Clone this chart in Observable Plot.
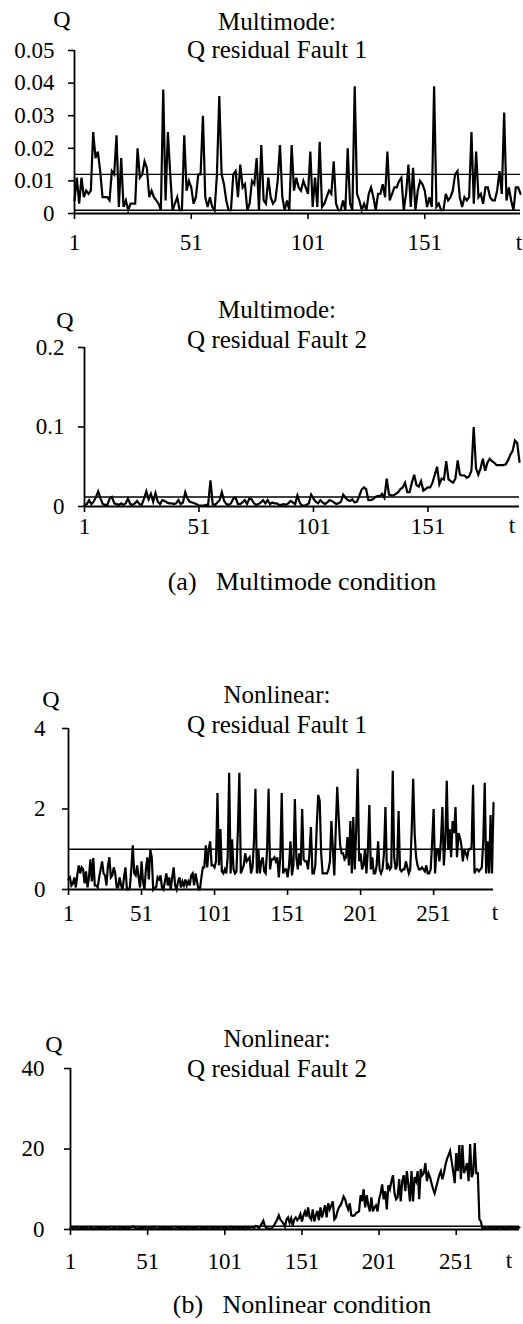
<!DOCTYPE html>
<html><head><meta charset="utf-8">
<script src="https://cdn.jsdelivr.net/npm/d3@7"></script>
<script src="https://cdn.jsdelivr.net/npm/@observablehq/plot@0.6"></script>
<style>
html,body{margin:0;padding:0;background:#fff;}
#root{position:relative;width:523px;height:1324px;overflow:hidden;}
#root svg{position:absolute;left:0;}
</style></head><body><div id="root"></div>
<script>
// ---------- data ----------
const multimodeTicksX = [1, 51, 101, 151];
const nonlinearTicksX = [1, 51, 101, 151, 201, 251];
const ticksY1 = [0, 0.01, 0.02, 0.03, 0.04, 0.05];
const ticksY2 = [0, 0.1, 0.2];
const ticksY3 = [0, 2, 4];
const ticksY4 = [0, 20, 40];
const limits1 = [0.012, 0.001];
const limits2 = [0.012];
const limits3 = [1.0];
const limits4 = [0.8];

const q1 = [
.004,.011,.003,.011,.005,.007,.006,.007,.025,.017,
.019,.013,.005,.005,.005,.004,.013,.012,.024,.002,
.017,.002,.004,.001,.003,.003,.003,.020,.011,.012,
.016,.014,.005,.007,.005,.004,.003,.001,.038,.004,
.025,.012,.001,.003,.005,.001,.001,.024,.007,.010,
.008,.003,.005,.012,.012,.030,.005,.002,.005,.002,
.001,.012,.036,.012,.009,.004,.001,.001,.012,.013,
.005,.015,.008,.009,.001,.003,.010,.009,.017,.001,
.021,.004,.003,.011,.005,.003,.004,.010,.021,.005,
.001,.004,.001,.021,.007,.011,.008,.007,.010,.008,
.006,.019,.002,.011,.002,.022,.002,.003,.005,.007,
.006,.016,.003,.001,.001,.004,.001,.020,.003,.001,
.039,.006,.004,.001,.003,.001,.006,.008,.005,.001,
.006,.006,.009,.005,.019,.004,.006,.008,.008,.010,
.011,.001,.006,.015,.002,.014,.001,.007,.010,.009,
.007,.002,.005,.002,.039,.002,.003,.001,.001,.006,
.004,.005,.007,.012,.013,.005,.002,.005,.004,.005,
.025,.003,.019,.005,.006,.003,.008,.008,.005,.004,
.004,.007,.013,.006,.031,.004,.008,.004,.001,.008,
.008,.006
];

const q2 = [
0.001,0.003,0.008,0.003,0.006,0.012,0.019,0.010,0.003,0.002,
0.002,0.010,0.012,0.004,0.003,0.002,0.004,0.002,0.004,0.010,
0.003,0.002,0.004,0.007,0.003,0.002,0.010,0.019,0.009,0.016,
0.006,0.017,0.006,0.003,0.008,0.007,0.005,0.004,0.004,0.003,
0.004,0.008,0.003,0.005,0.018,0.010,0.006,0.005,0.004,0.003,
0.001,0.001,0.001,0.002,0.002,0.033,0.003,0.002,0.005,0.008,
0.018,0.007,0.003,0.002,0.004,0.010,0.011,0.003,0.003,0.005,
0.008,0.003,0.010,0.009,0.004,0.002,0.003,0.005,0.008,0.004,
0.008,0.003,0.005,0.004,0.004,0.002,0.002,0.003,0.002,0.004,
0.007,0.005,0.003,0.014,0.005,0.001,0.001,0.002,0.004,0.015,
0.010,0.006,0.004,0.008,0.005,0.003,0.005,0.008,0.007,0.005,
0.003,0.004,0.006,0.015,0.011,0.008,0.007,0.009,0.005,0.006,
0.013,0.021,0.024,0.022,0.008,0.008,0.009,0.012,0.013,0.013,
0.016,0.011,0.035,0.015,0.014,0.014,0.016,0.018,0.022,0.024,
0.030,0.018,0.018,0.030,0.040,0.027,0.025,0.032,0.020,0.022,
0.024,0.024,0.030,0.040,0.050,0.028,0.035,0.034,0.057,0.034,
0.032,0.030,0.035,0.058,0.040,0.039,0.039,0.036,0.038,0.045,
0.100,0.048,0.040,0.048,0.060,0.045,0.055,0.060,0.057,0.055,
0.052,0.052,0.052,0.052,0.053,0.058,0.065,0.070,0.083,0.080,
0.056
];

const q3 = [
0.25,0.3,0.1,0.15,0.3,0.05,0.35,0.6,0.4,0.55,
0.5,0.15,0.45,0.05,0.3,0.75,0.2,0.78,0.1,0.1,
0.05,0.3,0.5,0.7,0.4,0.35,0.1,0.6,0.8,0.3,
0.35,0.55,0.4,0.05,0.05,0.3,0.1,0.0,0.3,0.55,
0.0,0.0,0.05,0.5,1.1,0.4,0.35,0.6,0.3,0.05,
0.7,0.2,0.0,0.5,0.8,0.25,1.0,0.8,0.0,0.05,
0.05,0.3,0.25,0.35,0.05,0.0,0.2,0.4,0.1,0.3,
0.0,0.3,0.55,0.1,0.0,0.2,0.3,0.05,0.2,0.1,
0.25,0.1,0.2,0.1,0.35,0.4,0.1,0.4,0.2,0.0,
0.0,0.3,0.55,0.55,1.1,0.55,1.0,1.2,0.6,0.6,
0.55,0.7,2.4,0.6,1.5,0.45,0.4,0.5,0.4,0.8,
2.9,0.4,1.25,0.5,0.4,0.45,1.5,2.9,0.4,0.5,
0.6,0.9,0.7,0.75,0.8,0.4,0.55,1.2,2.5,0.4,
1.0,0.4,0.7,0.8,0.45,0.4,1.0,2.5,0.5,0.75,
0.75,0.8,0.7,0.8,0.3,0.8,2.4,0.4,0.5,0.5,
0.3,0.6,1.2,0.35,0.6,2.25,0.8,0.5,0.9,0.6,
2.0,0.75,0.7,0.7,0.5,0.9,1.55,0.4,0.4,0.6,
1.6,2.35,2.2,0.9,0.4,0.4,0.4,0.4,0.5,0.7,
1.7,1.0,0.35,1.5,2.55,1.8,1.1,0.9,0.9,0.75,
0.8,1.3,0.6,1.7,0.4,1.8,0.5,1.5,3.0,0.7,
0.9,0.5,0.6,1.0,0.4,1.0,2.1,0.5,0.8,0.4,
0.4,0.6,1.2,0.5,0.4,0.5,0.9,2.05,0.5,0.6,
0.5,0.55,2.95,0.8,0.5,0.6,1.95,0.5,0.45,0.5,
0.5,0.7,0.55,0.4,0.5,1.5,2.75,1.4,0.8,0.6,
0.5,0.5,0.55,0.5,0.45,0.6,0.4,0.4,0.5,1.2,
2.0,0.4,1.0,1.0,0.7,1.2,2.05,0.6,1.2,2.7,
1.0,1.5,0.8,1.7,1.4,2.05,0.8,1.4,1.3,1.1,
0.7,1.0,0.9,0.8,1.0,1.0,1.05,2.6,0.4,0.5,
0.5,0.45,0.5,0.55,1.2,2.65,0.4,1.2,0.4,1.85,
0.4,2.15
];

const q4 = [
0.3,0.5,0.2,0.4,0.6,0.3,0.2,0.5,0.4,0.3,
0.6,0.2,0.3,0.5,0.4,0.2,0.3,0.6,0.4,0.3,
0.5,0.2,0.4,0.3,0.6,0.5,0.2,0.3,0.4,0.5,
0.3,0.2,0.6,0.4,0.3,0.5,0.2,0.4,0.3,0.5,
0.6,0.8,0.4,0.3,0.2,0.5,0.3,0.4,0.6,0.3,
0.2,0.5,0.4,0.3,0.7,0.4,0.2,0.3,0.5,0.4,
0.3,0.6,0.2,0.4,0.3,0.5,0.4,0.2,0.3,0.6,
0.4,0.3,0.5,0.2,0.4,0.3,0.6,0.4,0.2,0.5,
0.3,0.4,0.6,0.3,0.2,0.5,0.4,0.3,0.5,0.2,
0.4,0.6,0.3,0.5,0.2,0.4,0.3,0.5,0.6,0.4,
0.3,0.5,0.2,0.4,0.7,0.3,0.5,0.4,0.6,0.3,
0.5,0.4,0.3,0.6,0.4,0.5,0.3,0.6,
0.6,0.4,0.9,0.8,0.3,0.8,1.5,2.2,0.8,0.4,
0.2,0.2,0.1,0.6,1.1,1.8,2.5,3.5,2.5,2.0,
1.5,0.7,2.5,3.0,1.7,2.8,1.0,2.5,3.0,2.3,
2.8,3.8,2.0,3.5,4.5,3.2,5.5,3.0,2.5,5.0,
2.0,3.5,4.6,2.3,5.5,3.0,4.5,6.0,3.0,6.5,
5.0,6.0,7.0,2.5,3.0,4.5,5.5,6.0,7.0,8.2,
7.5,6.0,5.0,6.5,3.5,3.4,3.5,4.0,4.3,4.5,
8.5,7.0,10.0,5.5,8.5,6.0,4.5,8.0,4.5,5.5,
6.0,4.5,7.5,9.0,11.2,7.5,9.5,5.0,11.0,10.0,
12.0,13.5,9.0,7.5,8.0,12.5,7.0,12.0,13.5,9.5,
14.5,11.0,7.0,14.5,7.0,13.0,12.0,14.5,7.5,15.0,
13.5,14.0,16.5,12.0,14.0,13.0,11.5,10.0,9.0,10.5,
12.0,13.5,14.5,12.5,14.0,16.0,17.5,18.5,19.5,17.0,
14.5,11.5,19.0,14.5,21.0,12.5,21.0,14.0,15.0,16.5,
12.0,21.2,13.0,14.0,21.5,14.0,14.0,2.5,2.0,0.1,
0.3,0.5,0.2,0.4,0.6,0.3,0.5,0.2,0.4,0.3,
0.5,0.6,0.3,0.4,0.2,0.5,0.3,0.6,0.4,0.3,
0.5,0.2,0.4,0.5
];

const titles = [
  ["Multimode:", "Q residual Fault 1"],
  ["Multimode:", "Q residual Fault 2"],
  ["Nonlinear:", "Q residual Fault 1"],
  ["Nonlinear:", "Q residual Fault 2"]
];
const captions = ["(a)\u00a0\u00a0\u00a0Multimode condition", "(b)\u00a0\u00a0\u00a0Nonlinear condition"];

// ---------- font warm-up (removed before drawing) ----------
const FONT = "Liberation Serif";
const warm = document.createElement("div");
for (let s = 9; s <= 21; s++) {
  const w = document.createElement("span");
  w.style.font = s + "px 'Liberation Serif'";
  w.textContent = "Q0.5 Mt";
  warm.appendChild(w);
}
document.body.appendChild(warm);
void warm.offsetWidth;
warm.remove();

// ---------- drawing ----------
const root = document.getElementById("root");

function panel(cfg) {
  const rows = cfg.data.map((q, i) => ({t: i + 1, q}));
  const N = cfg.data.length;
  const yMax = cfg.yTicks[cfg.yTicks.length - 1];
  const svg = Plot.plot({
    width: 523,
    height: (cfg.y0 - cfg.top) + cfg.mb,
    marginTop: cfg.yTop - cfg.top,
    marginBottom: cfg.mb,
    marginLeft: cfg.ml,
    marginRight: cfg.mr,
    style: {fontFamily: FONT, fontSize: "23px"},
    x: {domain: [1, N]},
    y: {domain: [0, yMax]},
    marks: [
      Plot.axisX({ticks: cfg.xTicks, tickFormat: d => String(d), tickSize: 6, tickPadding: cfg.xPad, strokeWidth: 1.6, label: null}),
      Plot.axisY({ticks: cfg.yTicks, tickFormat: d => String(d), tickSize: 6, tickPadding: cfg.yPad, strokeWidth: 1.6, label: null}),
      Plot.ruleY(cfg.limits, {stroke: "#000", strokeWidth: 1.4}),
      Plot.lineY(rows, {x: "t", y: "q", stroke: "#000", strokeWidth: 2.2, strokeLinejoin: "miter", strokeMiterlimit: 4}),
      Plot.ruleY([0], {stroke: "#000", strokeWidth: 2.2}),
      Plot.ruleX([1], {y1: 0, y2: yMax, stroke: "#000", strokeWidth: 1.8})
    ]
  });
  svg.style.top = cfg.top + "px";
  svg.style.background = "transparent";
  svg.style.overflow = "visible";
  svg.style.color = "#000";
  root.appendChild(svg);
}

panel({data: q1, xTicks: multimodeTicksX, yTicks: ticksY1, limits: limits1,
  top: 0, yTop: 50, y0: 213, mb: 50, ml: 74, mr: 3, xPad: 14, yPad: 14});
panel({data: q2, xTicks: multimodeTicksX, yTicks: ticksY2, limits: limits2,
  top: 300, yTop: 347, y0: 506, mb: 40, ml: 84, mr: 4, xPad: 5, yPad: 14});
panel({data: q3, xTicks: nonlinearTicksX, yTicks: ticksY3, limits: limits3,
  top: 680, yTop: 728, y0: 889, mb: 40, ml: 68, mr: 30, xPad: 9, yPad: 17});
panel({data: q4, xTicks: nonlinearTicksX, yTicks: ticksY4, limits: limits4,
  top: 1040, yTop: 1068, y0: 1229, mb: 45, ml: 70, mr: 4, xPad: 17, yPad: 20});

// overlay text (titles, axis names, captions)
const ov = d3.select(root).append("svg")
  .attr("width", 523).attr("height", 1324)
  .style("top", "0px")
  .attr("fill", "#000");

const titlePos = [[29.5, 58], [318, 348], [703, 733], [1047, 1077]];
const qPos = [[62, 27], [65, 328], [51, 707], [54, 1052]];
const tPos = [[519, 250], [512, 533], [495, 920], [509, 1268]];

function label(x, y, size, s) {
  ov.append("text").attr("x", x).attr("y", y).attr("text-anchor", "middle")
    .style("font", size + "px 'Liberation Serif'").text(s);
}
titles.forEach((lines, i) => {
  lines.forEach((s, j) => label(277, titlePos[i][j], 25, s));
  label(qPos[i][0], qPos[i][1], 24, "Q");
  label(tPos[i][0], tPos[i][1], 23, "t");
});
const capPos = [590, 1313];
captions.forEach((s, i) => label(302, capPos[i], 26, s));

// tick labels: set the shorthand font as well
root.querySelectorAll("svg g[aria-label$='tick label'] text").forEach(el => {
  el.style.font = "23px 'Liberation Serif'";
});
</script>
</body></html>
